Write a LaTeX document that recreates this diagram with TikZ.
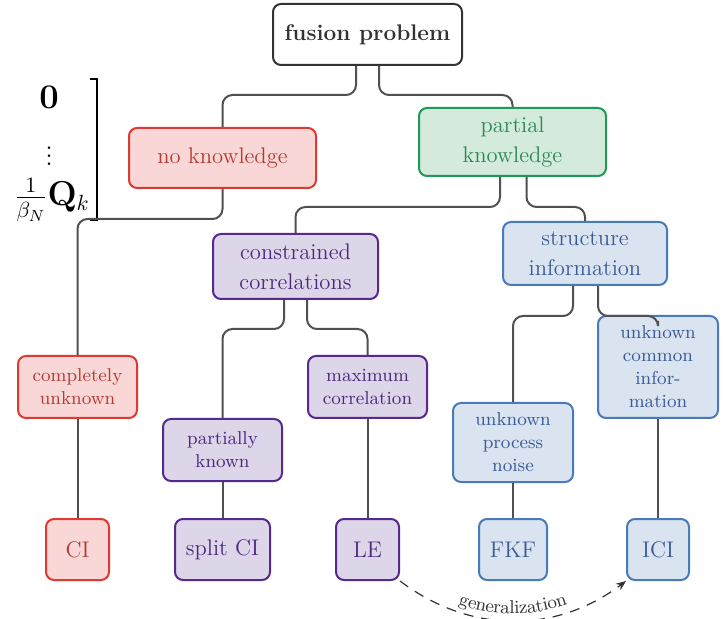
\documentclass[tikz,border=0pt]{standalone}
\usetikzlibrary{arrows.meta,decorations.text}
\definecolor{redB}{HTML}{DC3A32}
\definecolor{redF}{HTML}{F8D7D6}
\definecolor{redT}{HTML}{B53A34}
\definecolor{grnB}{HTML}{1F9A55}
\definecolor{grnF}{HTML}{D3EADC}
\definecolor{grnT}{HTML}{2A8850}
\definecolor{purB}{HTML}{55298F}
\definecolor{purF}{HTML}{DDD5E8}
\definecolor{purT}{HTML}{4A2A7E}
\definecolor{bluB}{HTML}{4A7AB9}
\definecolor{bluF}{HTML}{DAE3F0}
\definecolor{bluT}{HTML}{3A5A98}
\definecolor{connC}{HTML}{505050}
\definecolor{darkC}{HTML}{333333}
\tikzset{
  box/.style={draw, rounded corners=4pt, line width=1pt, align=center, inner sep=1pt},
  big/.style={font=\fontsize{11.3}{15}\selectfont},
  small/.style={font=\fontsize{9.3}{11.5}\selectfont},
  sz/.style 2 args={minimum width=#1*0.5pt, minimum height=#2*0.5pt},
  graybox/.style={box, draw=darkC, fill=white, text=darkC},
  redbox/.style={box, draw=redB, fill=redF, text=redT},
  grnbox/.style={box, draw=grnB, fill=grnF, text=grnT},
  purbox/.style={box, draw=purB, fill=purF, text=purT},
  blubox/.style={box, draw=bluB, fill=bluF, text=bluT},
  conn/.style={draw=connC, line width=1pt, rounded corners=5pt},
  genarrow/.style={draw=darkC, line width=0.6pt, dash pattern=on 5pt off 4pt, -{Stealth[length=5pt,width=4pt]}},
}
\begin{document}
\begin{tikzpicture}[x=0.5pt,y=-0.5pt]
\useasboundingbox (0,0) rectangle (727,619);

% matrix fragment
\begin{scope}[font=\fontsize{16}{19}\selectfont, inner sep=0pt]
\node (m0) at (49,97) {$\mathbf{0}$};
\node (m1) at (49,150) {$\vdots$};
\node (m2) at (52,200) {$\frac{1}{\beta_N}\mathbf{Q}_k$};
\end{scope}
\draw[line width=0.8pt] (90,79) -- (97,79) -- (97,220) -- (90,220);

% nodes
\node[graybox, big, sz={189}{61}] (fus) at (367.5,34.5) {\bfseries fusion problem};
\node[redbox, big, sz={187}{60}] (nok) at (222.5,158) {no knowledge};
\node[grnbox, big, sz={187}{68}] (par) at (512.5,142) {partial\\knowledge};
\node[purbox, big, sz={165}{65}] (con) at (295.5,266.5) {constrained\\correlations};
\node[blubox, big, sz={164}{63}] (str) at (585,253.5) {structure\\information};

\node[redbox, small, sz={119}{62}] (cu) at (77.5,387) {completely\\unknown};
\node[purbox, small, sz={119}{62}] (pk) at (222.5,450) {partially\\known};
\node[purbox, small, sz={119}{62}] (mc) at (367.5,387) {maximum\\correlation};
\node[blubox, small, sz={120}{79}] (upn) at (513,442.5) {unknown\\process\\noise};
\node[blubox, small, sz={120}{102}] (uci) at (658,367) {unknown\\common\\infor-\\mation};

\node[redbox, big, sz={63}{61}] (ci) at (77.5,549.5) {CI};
\node[purbox, big, sz={95}{61}] (sci) at (222.5,549.5) {split CI};
\node[purbox, big, sz={63}{61}] (le) at (367.5,549.5) {LE};
\node[blubox, big, sz={68}{61}] (fkf) at (513,549.5) {FKF};
\node[blubox, big, sz={62}{61}] (ici) at (658,549.5) {ICI};

% connectors
\draw[conn] ([xshift=-5.75pt]fus.south) -- ++(0,29) -| (nok.north);
\draw[conn] ([xshift=5.75pt]fus.south) -- ++(0,29) -| (par.north);
\draw[conn] (nok.south) -- ++(0,30) -| (cu.north);
\draw[conn] ([xshift=-6.25pt]par.south) -- ++(0,30) -| (con.north);
\draw[conn] ([xshift=7pt]par.south) -- ++(0,30) -| (str.north);
\draw[conn] ([xshift=-5.75pt]con.south) -- ++(0,29) -| (pk.north);
\draw[conn] ([xshift=5.75pt]con.south) -- ++(0,29) -| (mc.north);
\draw[conn] ([xshift=-6pt]str.south) -- ++(0,30) -| (upn.north);
\draw[conn] ([xshift=6.5pt]str.south) -- ++(0,30) -| ([yshift=-3pt]uci.north);
\draw[conn] (cu) -- (ci);
\draw[conn] (pk) -- (sci);
\draw[conn] (mc) -- (le);
\draw[conn] (upn) -- (fkf);
\draw[conn] (uci) -- (ici);

% generalization
\draw[genarrow] (le.south east) to[bend right=37] (ici.south west);
\path[postaction={decorate}, decoration={text along path, text align=center, raise=3.5pt,
  text={|\fontsize{9.3}{11}\selectfont\color{darkC}|generalization}}]
  (le.south east) to[bend right=37] (ici.south west);
\end{tikzpicture}
\end{document}
